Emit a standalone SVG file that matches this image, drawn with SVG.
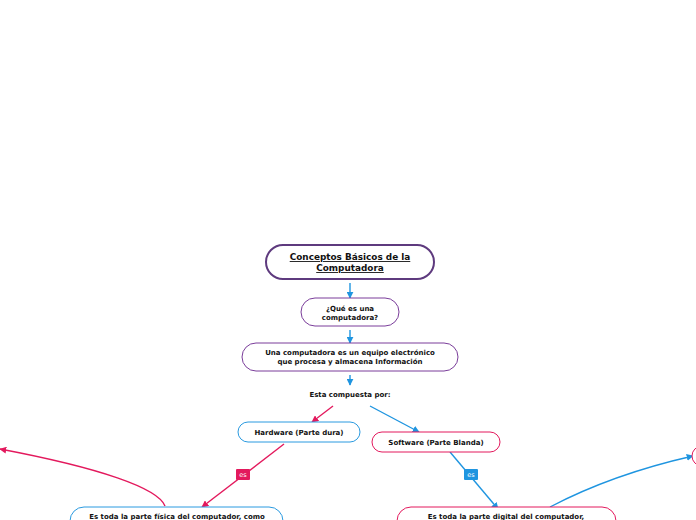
<svg xmlns="http://www.w3.org/2000/svg" width="696" height="520" viewBox="0 0 696 520">
<style>
text{font-family:"DejaVu Sans","Verdana",sans-serif;font-weight:bold;fill:#111;text-anchor:middle}
.t{font-size:8.9px;text-decoration:underline}
.s{font-size:7px}
.n{fill:#fff}
.pu{stroke:#7a3d9a;stroke-width:1}
.bl{stroke:#2a9ae0;stroke-width:1}
.pk{stroke:#e3195d;stroke-width:1}
.cb{stroke:#1f95e0;stroke-width:1.4;fill:none}
.cp{stroke:#e3195d;stroke-width:1.4;fill:none}
.lbl{font-size:6.5px;font-weight:normal;fill:#fff}
</style>
<defs>
<marker id="ab" viewBox="0 0 10 10" refX="9" refY="5" markerWidth="5" markerHeight="5" orient="auto"><path d="M0,0L10,5L0,10z" fill="#1f95e0"/></marker>
<marker id="ap" viewBox="0 0 10 10" refX="9" refY="5" markerWidth="5" markerHeight="5" orient="auto"><path d="M0,0L10,5L0,10z" fill="#e3195d"/></marker>
</defs>
<rect width="696" height="520" fill="#fff"/>
<g id="connectors">
<line class="cb" x1="350" y1="283" x2="350" y2="298" marker-end="url(#ab)"/>
<line class="cb" x1="350" y1="330" x2="350" y2="343" marker-end="url(#ab)"/>
<line class="cb" x1="350" y1="375" x2="350" y2="385" marker-end="url(#ab)"/>
<line class="cp" x1="333" y1="406" x2="312" y2="422" marker-end="url(#ap)"/>
<line class="cb" x1="370" y1="406" x2="419" y2="432" marker-end="url(#ab)"/>
<line class="cp" x1="284" y1="444" x2="202" y2="507" marker-end="url(#ap)"/>
<line class="cb" x1="450" y1="452" x2="498" y2="509" marker-end="url(#ab)"/>
<path class="cp" d="M165,506 C158,488 100,468 0,449" marker-end="url(#ap)"/>
<path class="cb" d="M550,507 C590,486 640,468 693,456" marker-end="url(#ab)"/>
<rect x="236" y="469" width="14" height="11" rx="1" fill="#e3195d"/>
<text class="lbl" x="243" y="477">es</text>
<rect x="464" y="469" width="14" height="11" rx="1" fill="#1f95e0"/>
<text class="lbl" x="471" y="477">es</text>
</g>
<g id="n1">
<rect class="n" x="266" y="245" width="168" height="34" rx="17" stroke="#5e3a7e" stroke-width="2"/>
<text class="t" x="350" y="260">Conceptos Básicos de la</text>
<text class="t" x="350" y="271">Computadora</text>
</g>
<g id="n2">
<rect class="n pu" x="301" y="298" width="98" height="28" rx="14"/>
<text class="s" x="350" y="311">¿Qué es una</text>
<text class="s" x="350" y="320">computadora?</text>
</g>
<g id="n3">
<rect class="n pu" x="242" y="343" width="216" height="28" rx="14"/>
<text class="s" x="350" y="355">Una computadora es un equipo electrónico</text>
<text class="s" x="350" y="364">que procesa y almacena Información</text>
</g>
<g id="n4">
<text class="s" x="350" y="397">Esta compuesta por:</text>
</g>
<g id="n5">
<rect class="n bl" x="238" y="422" width="122" height="20" rx="10"/>
<text class="s" x="299" y="435">Hardware (Parte dura)</text>
</g>
<g id="n6">
<rect class="n pk" x="372" y="432" width="128" height="20" rx="10"/>
<text class="s" x="436" y="445">Software (Parte Blanda)</text>
</g>
<g id="n7">
<rect class="n bl" x="70" y="507" width="213" height="40" rx="14"/>
<text class="s" x="177" y="519">Es toda la parte física del computador, como</text>
</g>
<g id="n8">
<rect class="n pk" x="397" y="507" width="219" height="40" rx="14"/>
<text class="s" x="506" y="519">Es toda la parte digital del computador,</text>
</g>
<g id="n9">
<rect class="n pk" x="692" y="446" width="40" height="20" rx="10"/>
</g>
</svg>
